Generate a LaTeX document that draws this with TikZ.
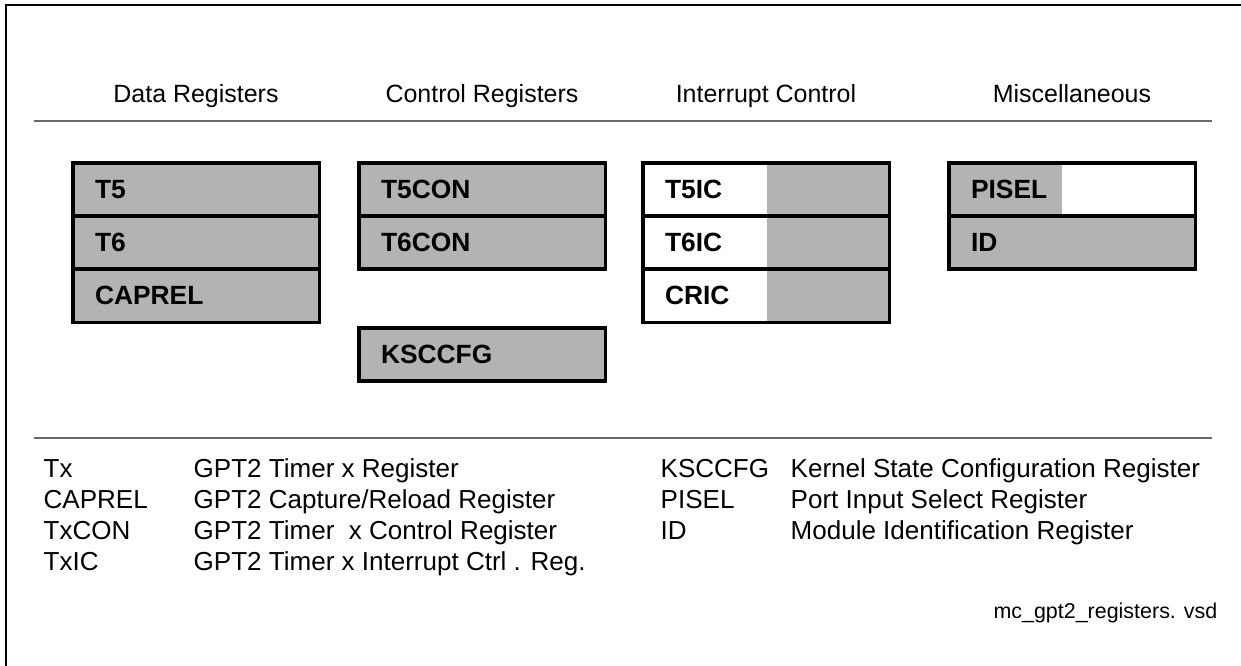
\documentclass[tikz,border=0pt]{standalone}
\usepackage{fontspec}
\setmainfont{Liberation Sans}
\usetikzlibrary{positioning}

\definecolor{regfill}{RGB}{179,179,179}
\definecolor{rulegray}{RGB}{105,105,105}

\tikzset{
  reg/.style={draw, line width=0.9pt, fill=regfill, outer sep=0pt,
    minimum width=2.46cm, minimum height=0.53cm, text width=2.02cm,
    inner xsep=0.22cm, inner ysep=0pt, align=left,
    font=\fontsize{7.5}{8}\selectfont\bfseries},
  icreg/.style={reg, fill=white, path picture={
    \fill[regfill] ([xshift=1.24cm]path picture bounding box.north west)
      rectangle (path picture bounding box.south east);}},
  selreg/.style={reg, fill=white, path picture={
    \fill[regfill] (path picture bounding box.north west)
      rectangle ([xshift=1.13cm]path picture bounding box.south west);}},
  head/.style={font=\fontsize{7.1}{8}\selectfont, anchor=base},
  key/.style={font=\fontsize{7.4}{8}\selectfont, anchor=base west, inner sep=0pt},
}

\begin{document}
\begin{tikzpicture}[x=0.01cm, y=-0.01cm]
  \useasboundingbox (0,0) rectangle (1241,666);
  \draw[line width=0.6pt] (6,666) -- (6,5) -- (1241,5);

  % column headings
  \node[head] (hdata) at (196,102) {Data Registers};
  \node[head] (hctrl) at (482,102) {Control Registers};
  \node[head] (hint) at (766,102) {Interrupt Control};
  \node[head] (hmisc) at (1072,102) {Miscellaneous};
  \draw[rulegray, line width=0.5pt] (34,121) -- (1212,121);

  % data registers
  \node[reg, anchor=north west] (t5) at (73,163) {T5};
  \node[reg, below=0pt of t5] (t6) {T6};
  \node[reg, below=0pt of t6] (caprel) {CAPREL};

  % control registers
  \node[reg, anchor=north west] (t5con) at (359,163) {T5CON};
  \node[reg, below=0pt of t5con] (t6con) {T6CON};
  \node[reg, anchor=north west] (ksccfg) at (359,328) {KSCCFG};

  % interrupt control
  \node[icreg, anchor=north west] (t5ic) at (643,163) {T5IC};
  \node[icreg, below=0pt of t5ic] (t6ic) {T6IC};
  \node[icreg, below=0pt of t6ic] (cric) {CRIC};

  % miscellaneous
  \node[selreg, anchor=north west] (pisel) at (949,163) {PISEL};
  \node[reg, below=0pt of pisel] (id) {ID};

  % legend
  \draw[rulegray, line width=0.5pt] (34,438) -- (1212,438);
  \foreach \abbr/\desc [count=\i] in {Tx/{GPT2 Timer x Register},
      CAPREL/{GPT2 Capture/Reload Register},
      TxCON/{GPT2 Timer~\ x Control Register},
      TxIC/{GPT2 Timer x Interrupt Ctrl . Reg.}} {
    \node[key] (abl\i) at (43,446+31*\i) {\abbr};
    \node[key] (dsl\i) at (193,446+31*\i) {\desc};
  }
  \foreach \abbr/\desc [count=\i] in {KSCCFG/{Kernel State Configuration Register},
      PISEL/{Port Input Select Register},
      ID/{Module Identification Register}} {
    \node[key] (abr\i) at (660,446+31*\i) {\abbr};
    \node[key] (dsr\i) at (790,446+31*\i) {\desc};
  }
  \node[font=\fontsize{6.1}{7}\selectfont, anchor=base east, inner sep=0pt]
    (fname) at (1218,618) {mc\_gpt2\_registers. vsd};
\end{tikzpicture}
\end{document}
